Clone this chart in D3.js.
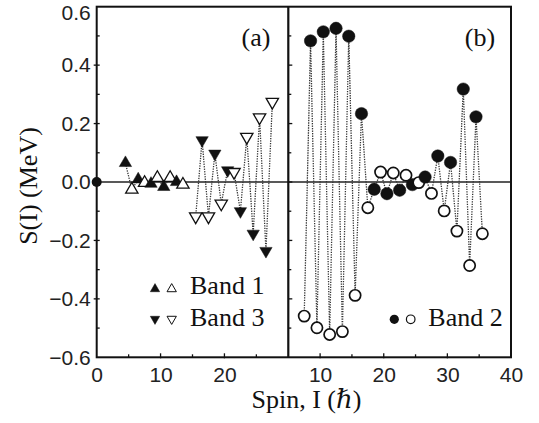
<!DOCTYPE html>
<html>
<head>
<meta charset="utf-8">
<script src="https://cdn.jsdelivr.net/npm/d3@7"></script>
<style>
body { margin: 0; background: #fff; }
svg { display: block; }
</style>
</head>
<body>
<svg id="chart" width="539" height="423"></svg>
<script>
// Band 1, panel (a)
var band1Spin = [4.5, 5.5, 6.5, 7.5, 8.5, 9.5, 10.5, 11.5, 12.5, 13.5];
var band1S = [0.065, -0.026, 0.009, -0.003, -0.006, 0.014, -0.017, 0.014, 0.000, -0.009];
// Band 3, panel (a)
var band3Spin = [15.5, 16.5, 17.5, 18.5, 19.5, 20.5, 21.5, 22.5, 23.5, 24.5, 25.5, 26.5, 27.5];
var band3S = [-0.118, 0.143, -0.118, 0.097, -0.074, 0.040, 0.034, -0.100, 0.154, -0.177, 0.221, -0.236, 0.274];
// Band 2, panel (b)
var band2Spin = [7.5, 8.5, 9.5, 10.5, 11.5, 12.5, 13.5, 14.5, 15.5, 16.5, 17.5, 18.5, 19.5, 20.5, 21.5,
                 22.5, 23.5, 24.5, 25.5, 26.5, 27.5, 28.5, 29.5, 30.5, 31.5, 32.5, 33.5, 34.5, 35.5];
var band2S = [-0.459, 0.483, -0.499, 0.514, -0.522, 0.526, -0.512, 0.499, -0.388, 0.234, -0.088, -0.025,
              0.034, -0.040, 0.031, -0.028, 0.023, -0.009, -0.002, 0.017, -0.039, 0.089, -0.099, 0.067,
              -0.168, 0.318, -0.286, 0.223, -0.177];
// lone point sitting on the left axis
var strayPoint = [[0, 0]];

var yTicks = [-0.6, -0.4, -0.2, 0.0, 0.2, 0.4, 0.6];
var yMinor = [-0.5, -0.3, -0.1, 0.1, 0.3, 0.5];
var xTicksA = [0, 10, 20];
var xMinorA = [5, 15, 25];
var xTicksB = [10, 20, 30, 40];
var xMinorB = [15, 25, 35];

var serif = "'Liberation Serif', 'DejaVu Serif', serif";
var sans = "'Liberation Sans', Arial, sans-serif";

var svg = d3.select('#chart');

var xa = d3.scaleLinear().domain([0, 30]).range([96.7, 288.3]);
var xb = d3.scaleLinear().domain([5, 40]).range([288.3, 511]);
var y = d3.scaleLinear().domain([-0.6, 0.6]).range([357.3, 6.7]);

function pts(spins, vals) {
  return spins.map(function(d, i) { return { I: d, S: vals[i], filled: Math.floor(d) % 2 === 0 }; });
}
var b1 = pts(band1Spin, band1S);
var b3 = pts(band3Spin, band3S);
var b2 = pts(band2Spin, band2S);

// zero line
svg.append('line')
  .attr('x1', xa(0)).attr('x2', xb(40))
  .attr('y1', y(0)).attr('y2', y(0))
  .attr('stroke', '#222').attr('stroke-width', 1.3);

// dotted connectors
function connect(data, x) {
  svg.append('path')
    .datum(data)
    .attr('fill', 'none')
    .attr('stroke', '#333')
    .attr('stroke-width', 1.3)
    .attr('stroke-dasharray', '1.3,1.2')
    .attr('d', d3.line().x(function(d) { return x(d.I); }).y(function(d) { return y(d.S); }));
}
connect(b1, xa);
connect(b3, xa);
connect(b2, xb);

// markers
var triSize = 66;
function triangles(data, x, down) {
  svg.append('g').selectAll('path')
    .data(data)
    .enter().append('path')
    .attr('d', d3.symbol().type(d3.symbolTriangle).size(triSize))
    .attr('transform', function(d) {
      return 'translate(' + x(d.I) + ',' + y(d.S) + ')' + (down ? ' rotate(180)' : '');
    })
    .attr('fill', function(d) { return d.filled ? '#111' : '#fff'; })
    .attr('stroke', '#111')
    .attr('stroke-width', function(d) { return d.filled ? 0.5 : 1.3; });
}
triangles(b1, xa, false);
triangles(b3, xa, true);

svg.append('g').selectAll('circle')
  .data(b2)
  .enter().append('circle')
  .attr('cx', function(d) { return xb(d.I); })
  .attr('cy', function(d) { return y(d.S); })
  .attr('r', function(d) { return d.filled ? 6.2 : 5.6; })
  .attr('fill', function(d) { return d.filled ? '#111' : '#fff'; })
  .attr('stroke', '#111')
  .attr('stroke-width', function(d) { return d.filled ? 0.5 : 1.7; });

svg.append('g').selectAll('circle')
  .data(strayPoint)
  .enter().append('circle')
  .attr('cx', function(d) { return xa(d[0]); })
  .attr('cy', function(d) { return y(d[1]); })
  .attr('r', 5)
  .attr('fill', '#111');

// frame and divider
svg.append('rect')
  .attr('x', xa(0)).attr('y', y(0.6))
  .attr('width', xb(40) - xa(0)).attr('height', y(-0.6) - y(0.6))
  .attr('fill', 'none').attr('stroke', '#111').attr('stroke-width', 2);
svg.append('line')
  .attr('x1', xa(30)).attr('x2', xa(30))
  .attr('y1', y(0.6)).attr('y2', y(-0.6))
  .attr('stroke', '#111').attr('stroke-width', 2.2);

// tick marks
var ticks = svg.append('g').attr('stroke', '#111').attr('stroke-width', 1.3);
yTicks.slice(1, -1).forEach(function(v) {
  ticks.append('line').attr('x1', xa(0) - 3).attr('x2', xa(0) + 3).attr('y1', y(v)).attr('y2', y(v));
  ticks.append('line').attr('x1', xb(5)).attr('x2', xb(5) + 4).attr('y1', y(v)).attr('y2', y(v));
});
yMinor.forEach(function(v) {
  ticks.append('line').attr('x1', xa(0)).attr('x2', xa(0) + 3).attr('y1', y(v)).attr('y2', y(v));
  ticks.append('line').attr('x1', xb(5)).attr('x2', xb(5) + 3).attr('y1', y(v)).attr('y2', y(v));
});
xTicksA.slice(1).forEach(function(v) {
  ticks.append('line').attr('x1', xa(v)).attr('x2', xa(v)).attr('y1', y(-0.6) - 4).attr('y2', y(-0.6) + 1);
});
xMinorA.forEach(function(v) {
  ticks.append('line').attr('x1', xa(v)).attr('x2', xa(v)).attr('y1', y(-0.6) - 3).attr('y2', y(-0.6));
});
xTicksB.slice(0, -1).forEach(function(v) {
  ticks.append('line').attr('x1', xb(v)).attr('x2', xb(v)).attr('y1', y(-0.6) - 4).attr('y2', y(-0.6) + 1);
});
xMinorB.forEach(function(v) {
  ticks.append('line').attr('x1', xb(v)).attr('x2', xb(v)).attr('y1', y(-0.6) - 3).attr('y2', y(-0.6));
});

// tick labels via d3 axes
var yAxis = svg.append('g')
  .attr('transform', 'translate(' + xa(0) + ',0)')
  .call(d3.axisLeft(y).tickValues(yTicks).tickSize(0).tickPadding(6).tickFormat(d3.format('.1f')));
var xAxisA = svg.append('g')
  .attr('transform', 'translate(0,' + y(-0.6) + ')')
  .call(d3.axisBottom(xa).tickValues(xTicksA).tickSize(0).tickPadding(9.5));
var xAxisB = svg.append('g')
  .attr('transform', 'translate(0,' + y(-0.6) + ')')
  .call(d3.axisBottom(xb).tickValues(xTicksB).tickSize(0).tickPadding(9.5));
[yAxis, xAxisA, xAxisB].forEach(function(g) {
  g.select('.domain').remove();
  g.selectAll('text').attr('font-family', sans).attr('font-size', 21).attr('fill', '#222');
});
// top label sits a little low so it stays inside the page
yAxis.selectAll('.tick').filter(function(d) { return d === 0.6; }).select('text').attr('dy', '0.6em');

// axis titles
var xTitle = svg.append('text')
  .attr('x', 306.5).attr('y', 408)
  .attr('text-anchor', 'middle')
  .attr('font-family', serif).attr('font-size', 26).attr('fill', '#111');
xTitle.append('tspan').text('Spin, I (');
xTitle.append('tspan').attr('font-style', 'italic').text('\u210F');
xTitle.append('tspan').text(')');

svg.append('text')
  .attr('transform', 'translate(37,186) rotate(-90)')
  .attr('text-anchor', 'middle')
  .attr('font-family', serif).attr('font-size', 26).attr('fill', '#111')
  .text('S(I) (MeV)');

// panel labels
svg.append('text').attr('x', 256).attr('y', 46).attr('text-anchor', 'middle')
  .attr('font-family', serif).attr('font-size', 26).attr('fill', '#111').text('(a)');
svg.append('text').attr('x', 480).attr('y', 46).attr('text-anchor', 'middle')
  .attr('font-family', serif).attr('font-size', 26).attr('fill', '#111').text('(b)');

// legends
var legTri = [
  { x: 155, y: 289, down: false, filled: true },
  { x: 171.7, y: 289, down: false, filled: false },
  { x: 155, y: 319, down: true, filled: true },
  { x: 171.7, y: 319, down: true, filled: false }
];
svg.append('g').selectAll('path')
  .data(legTri)
  .enter().append('path')
  .attr('d', d3.symbol().type(d3.symbolTriangle).size(38))
  .attr('transform', function(d) { return 'translate(' + d.x + ',' + d.y + ')' + (d.down ? ' rotate(180)' : ''); })
  .attr('fill', function(d) { return d.filled ? '#111' : '#fff'; })
  .attr('stroke', '#111')
  .attr('stroke-width', function(d) { return d.filled ? 0.5 : 1; });
svg.append('circle').attr('cx', 394.3).attr('cy', 319.3).attr('r', 4.6).attr('fill', '#111');
svg.append('circle').attr('cx', 410.7).attr('cy', 319.3).attr('r', 4.3)
  .attr('fill', '#fff').attr('stroke', '#111').attr('stroke-width', 1.2);

var legText = [
  { x: 190, y: 294.3, t: 'Band 1' },
  { x: 190, y: 326, t: 'Band 3' },
  { x: 428.3, y: 326, t: 'Band 2' }
];
svg.append('g').selectAll('text')
  .data(legText)
  .enter().append('text')
  .attr('x', function(d) { return d.x; })
  .attr('y', function(d) { return d.y; })
  .attr('font-family', serif).attr('font-size', 26).attr('fill', '#111')
  .text(function(d) { return d.t; });
</script>
</body>
</html>
